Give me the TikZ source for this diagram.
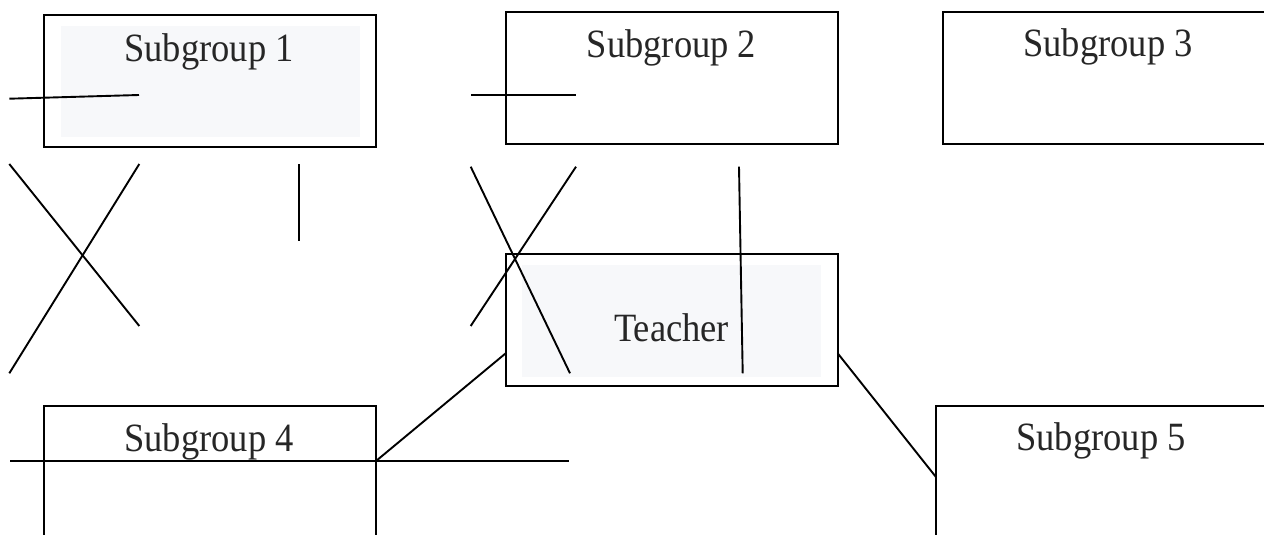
\documentclass[tikz,border=0pt]{standalone}
\usepackage{fontspec}
\usepackage{graphicx}
\setmainfont{Liberation Serif}
\definecolor{txtgray}{HTML}{262626}
\definecolor{panel}{HTML}{F7F8FA}
\newcommand{\tallword}[1]{\scalebox{1}[1.1]{#1}}
\begin{document}
\begin{tikzpicture}[x=1pt,y=-1pt,
  box/.style={draw=black, line width=2pt, inner sep=0pt, minimum height=132pt},
  lbl/.style={font=\fontsize{36.5}{40}\selectfont, text=txtgray, anchor=base, inner sep=0pt},
  wire/.style={line width=1.9pt, line cap=butt}]
  \useasboundingbox (0,0) rectangle (1264,535);
  \clip (0,0) rectangle (1264,535);

  % shaded panels inside two of the boxes
  \fill[panel] (61,26) rectangle (360,137);
  \fill[panel] (521.7,265) rectangle (820.7,376.7);

  % group boxes
  \node[box, minimum width=331.4pt, minimum height=131.7pt] (s1) at (210,80.8) {};
  \node[box, minimum width=332pt] (s2) at (671.7,77.8) {};
  \node[box, minimum width=330.6pt] (s3) at (1108,77.8) {};
  \node[box, minimum width=332pt, minimum height=131.7pt] (tch) at (671.7,320.2) {};
  \node[box, minimum width=331.7pt] (s4) at (210.2,471.5) {};
  \node[box, minimum width=330.6pt] (s5) at (1101,471.7) {};

  % labels
  \node[lbl] (s1t) at (209,62) {\tallword{Subgroup 1}};
  \node[lbl] (s2t) at (671.5,57.7) {\tallword{Subgroup 2}};
  \node[lbl] (s3t) at (1108,57) {\tallword{Subgroup 3}};
  \node[lbl] (tcht) at (671.5,341.7) {\tallword{Teacher}};
  \node[lbl] (s4t) at (209,451.7) {\tallword{Subgroup 4}};
  \node[lbl] (s5t) at (1101,450.7) {\tallword{Subgroup 5}};

  % loose line ends
  \coordinate (a1) at (9.3,98.7);   \coordinate (a2) at (139,95);
  \coordinate (b1) at (471,95);     \coordinate (b2) at (576,95);
  \coordinate (c1) at (9.3,164);    \coordinate (c2) at (139.3,326);
  \coordinate (d1) at (139.3,164);  \coordinate (d2) at (9.3,373.3);
  \coordinate (e1) at (299,164);    \coordinate (e2) at (299,240.7);
  \coordinate (f1) at (470.7,166.7);\coordinate (f2) at (570,373.3);
  \coordinate (g1) at (576,166.7);  \coordinate (g2) at (470.7,326);
  \coordinate (h1) at (739,166.7);  \coordinate (h2) at (742.7,373.3);
  \coordinate (k1) at (10,461);     \coordinate (k2) at (569,461);
  \coordinate (s4r) at (376,461);
  \coordinate (tl) at (505.7,353.3);
  \coordinate (tr) at (837.7,353.3);
  \coordinate (s5l) at (935.7,476.7);

  % strokes
  \draw[wire] (a1) -- (a2);
  \draw[wire] (b1) -- (b2);
  \draw[wire] (c1) -- (c2);
  \draw[wire] (d1) -- (d2);
  \draw[wire] (e1) -- (e2);
  \draw[wire] (f1) -- (f2);
  \draw[wire] (g1) -- (g2);
  \draw[wire] (h1) -- (h2);
  \draw[wire] (k1) -- (k2);
  \draw[wire] (s4r) -- (tl);
  \draw[wire] (tr) -- (s5l);
\end{tikzpicture}
\end{document}
